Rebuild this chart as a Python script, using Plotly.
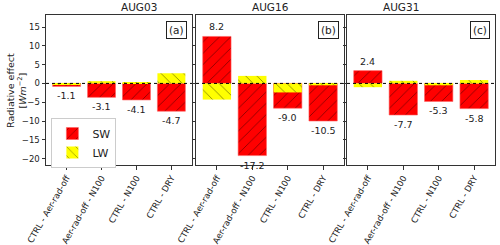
import plotly.graph_objects as go

panels = ["AUG03", "AUG16", "AUG31"]
panel_tags = ["(a)", "(b)", "(c)"]
categories = ["CTRL - Aer-rad-off", "Aer-rad-off - N100", "CTRL - N100", "CTRL - DRY"]
sw = [
    [-0.8, -3.7, -4.4, -7.4],
    [12.5, -19.2, -6.6, -10.0],
    [3.4, -8.4, -4.8, -6.7],
]
lw = [
    [-0.3, 0.6, 0.3, 2.7],
    [-4.3, 2.0, -2.4, -0.5],
    [-1.0, 0.7, -0.5, 0.9],
]
net_labels = [
    ["-1.1", "-3.1", "-4.1", "-4.7"],
    ["8.2", "-17.2", "-9.0", "-10.5"],
    ["2.4", "-7.7", "-5.3", "-5.8"],
]
yticks = [-20, -15, -10, -5, 0, 5, 10, 15]

W, H = 500, 245
ml, mr, mt, mb = 46, 5, 15, 80
pw = W - ml - mr
px = [(46, 192), (196, 344), (347, 495)]
domains = [((a - ml) / pw, (b - ml) / pw) for a, b in px]

fig = go.Figure()
font = dict(family="DejaVu Sans", color="#222")

for i in range(3):
    xa = "x" if i == 0 else f"x{i+1}"
    ya = "y" if i == 0 else f"y{i+1}"
    fig.add_trace(go.Bar(
        x=list(range(4)), y=sw[i], width=0.8, name="SW", showlegend=(i == 0),
        legendgroup="SW", xaxis=xa, yaxis=ya,
        marker=dict(color="red", line=dict(width=0.6, color="#ff6060"),
                    pattern=dict(shape="/", fgcolor="black", bgcolor="red", size=8, solidity=0.1)),
    ))
    fig.add_trace(go.Bar(
        x=list(range(4)), y=lw[i], width=0.8, name="LW", showlegend=(i == 0),
        legendgroup="LW", xaxis=xa, yaxis=ya,
        marker=dict(color="yellow", line=dict(width=0),
                    pattern=dict(shape="\\", fgcolor="black", bgcolor="yellow", size=8, solidity=0.1)),
    ))
    for j in range(4):
        net = sw[i][j] + lw[i][j]
        if net >= 0:
            yv = max(sw[i][j], lw[i][j], 0)
            ys, ya_anchor = 2, "bottom"
        else:
            yv = min(sw[i][j], lw[i][j], 0)
            ys, ya_anchor = -2, "top"
        fig.add_annotation(x=j, y=yv, xref=xa, yref=ya, text=net_labels[i][j],
                           showarrow=False, yanchor=ya_anchor, yshift=ys,
                           font=dict(family="DejaVu Sans", size=9.5, color="#222"))
    fig.add_shape(type="line", xref=f"{xa} domain", yref=ya, x0=0, x1=1, y0=0, y1=0,
                  line=dict(color="black", width=1, dash="dot"))
    d0, d1 = domains[i]
    fig.add_annotation(x=(d0 + d1) / 2, y=1, xref="paper", yref="paper", text=panels[i],
                       showarrow=False, yanchor="bottom", yshift=0,
                       font=dict(family="DejaVu Sans", size=10.5, color="#222"))
    fig.add_annotation(x=1, y=1, xref=f"{xa} domain", yref=f"{ya} domain", text=panel_tags[i],
                       showarrow=False, xanchor="right", yanchor="top", xshift=-5, yshift=-6,
                       bordercolor="#222", borderwidth=1, borderpad=2, bgcolor="white",
                       font=dict(family="DejaVu Sans", size=10.5, color="#222"))

    axis_common = dict(showline=True, linecolor="#333", linewidth=1, mirror=True,
                       showgrid=False, zeroline=False, ticks="outside", ticklen=3.5,
                       tickcolor="#333")
    fig.update_layout(**{
        ("xaxis" if i == 0 else f"xaxis{i+1}"): dict(
            domain=list(domains[i]), anchor=ya, range=[-0.59, 3.59],
            tickmode="array", tickvals=list(range(4)), ticktext=categories,
            tickangle=-60, automargin=False,
            tickfont=dict(family="DejaVu Sans", size=8.6, color="#222"), **axis_common),
        ("yaxis" if i == 0 else f"yaxis{i+1}"): dict(
            domain=[0, 1], anchor=xa, range=[-21.7, 18.2],
            tickmode="array", tickvals=yticks, automargin=False,
            tickfont=dict(family="DejaVu Sans", size=8.5, color="#222"),
            showticklabels=(i == 0), **axis_common),
    })

fig.add_annotation(x=(16 - ml) / pw, y=0.5, xref="paper", yref="paper",
                   text="Radiative effect<br>[<i>Wm</i><sup>−2</sup>]",
                   showarrow=False, textangle=-90, xanchor="center", yanchor="middle",
                   font=dict(family="DejaVu Sans", size=9.5, color="#222"))

fig.update_layout(
    width=W, height=H, margin=dict(l=ml, r=mr, t=mt, b=mb, autoexpand=False),
    plot_bgcolor="white", paper_bgcolor="white", barmode="overlay",
    font=font,
    legend=dict(x=0.012, y=-0.02, xanchor="left", yanchor="bottom",
                bgcolor="white", bordercolor="#ccc", borderwidth=1,
                font=dict(family="DejaVu Sans", size=11, color="#222"),
                tracegroupgap=0, itemwidth=30),
)

fig.write_html("out.html", config={"displayModeBar": False},
               post_script="document.body.style.margin='0';document.body.style.padding='0';")
